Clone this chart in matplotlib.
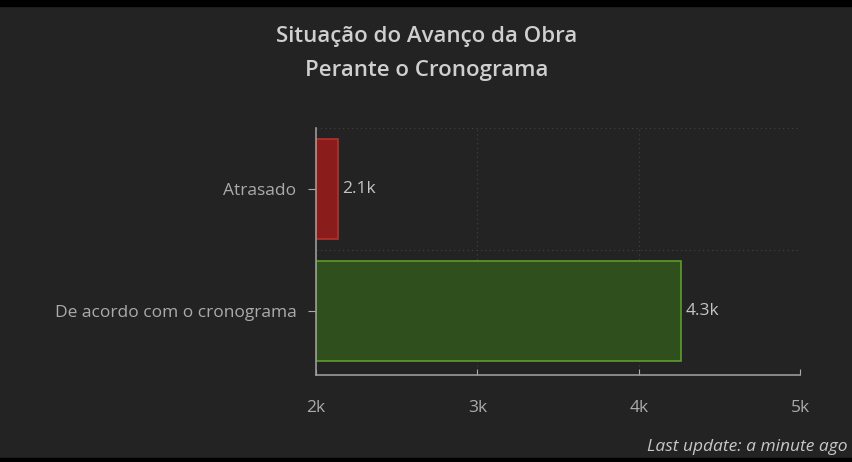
import matplotlib
matplotlib.use("Agg")
from matplotlib import pyplot as plt
from matplotlib.patches import Rectangle

# Data
categories = ['De acordo com o cronograma', 'Atrasado']
values = [4263, 2136]
labels = ['4.3k', '2.1k']
fills = ['#2f4f1c', '#8a1c1c']
edges = ['#5c9e2a', '#b8302a']
xticks = [2000, 3000, 4000, 5000]
xticklabels = ['2k', '3k', '4k', '5k']

bg = '#232323'
txt = '#ababab'
fnt = 'Open Sans'

fig = plt.figure(figsize=(8.53, 4.62), dpi=100, facecolor=bg)
ax = fig.add_axes([0.3705, 0.188, 0.5675, 0.535], facecolor=bg)

ypos = list(range(len(categories)))
ax.barh(ypos, [v - 2000 for v in values], left=2000, height=0.82,
        color=fills, edgecolor=edges, linewidth=1.2)
for y, v, lab in zip(ypos, values, labels):
    ax.text(v + 25, y, lab, va='center', ha='left', color='#c4c4c4',
            fontsize=12.5, family=fnt)

ax.set_xlim(2000, 5000)
ax.set_ylim(-0.525, 1.5)
ax.set_xticks(xticks)
ax.set_xticklabels(xticklabels)
ax.set_yticks(ypos)
ax.set_yticklabels(categories)

# dotted grid
ax.set_yticks([0.5, 1.5], minor=True)
ax.grid(axis='x', which='major', linestyle=(0, (1, 3)), color='#444444', linewidth=0.8)
ax.grid(axis='y', which='minor', linestyle=(0, (1, 3)), color='#444444', linewidth=0.8)
ax.set_axisbelow(True)

for s in ['top', 'right']:
    ax.spines[s].set_visible(False)
ax.spines['left'].set_color('#9a9a9a')
ax.spines['bottom'].set_color('#9a9a9a')
ax.spines['left'].set_linewidth(1.2)
ax.spines['bottom'].set_linewidth(1.2)

ax.tick_params(axis='x', which='major', colors=txt, labelsize=12.5, length=4,
               direction='in', pad=18)
ax.tick_params(axis='y', which='major', colors=txt, labelsize=12.5, length=6, pad=8)
ax.tick_params(axis='y', which='minor', length=0)
for t in ax.get_xticklabels() + ax.get_yticklabels():
    t.set_family(fnt)
    t.set_color(txt)

fig.text(0.5, 0.922, 'Situação do Avanço da Obra', ha='center', va='center',
         color='#cfcfcf', fontsize=16, fontweight='semibold', family=fnt)
fig.text(0.5, 0.848, 'Perante o Cronograma', ha='center', va='center',
         color='#cfcfcf', fontsize=16, fontweight='semibold', family=fnt)

fig.text(0.994, 0.032, 'Last update: a minute ago', ha='right', va='center',
         color='#c8c8c8', fontsize=12.5, style='italic', family=fnt)

# black frame bands at top and bottom
fig.patches.append(Rectangle((0, 0.987), 1, 0.013, transform=fig.transFigure,
                             color='black', zorder=0))
fig.patches.append(Rectangle((0, 0), 1, 0.009, transform=fig.transFigure,
                             color='black', zorder=0))

plt.savefig('out.png', dpi=100, facecolor=bg)
